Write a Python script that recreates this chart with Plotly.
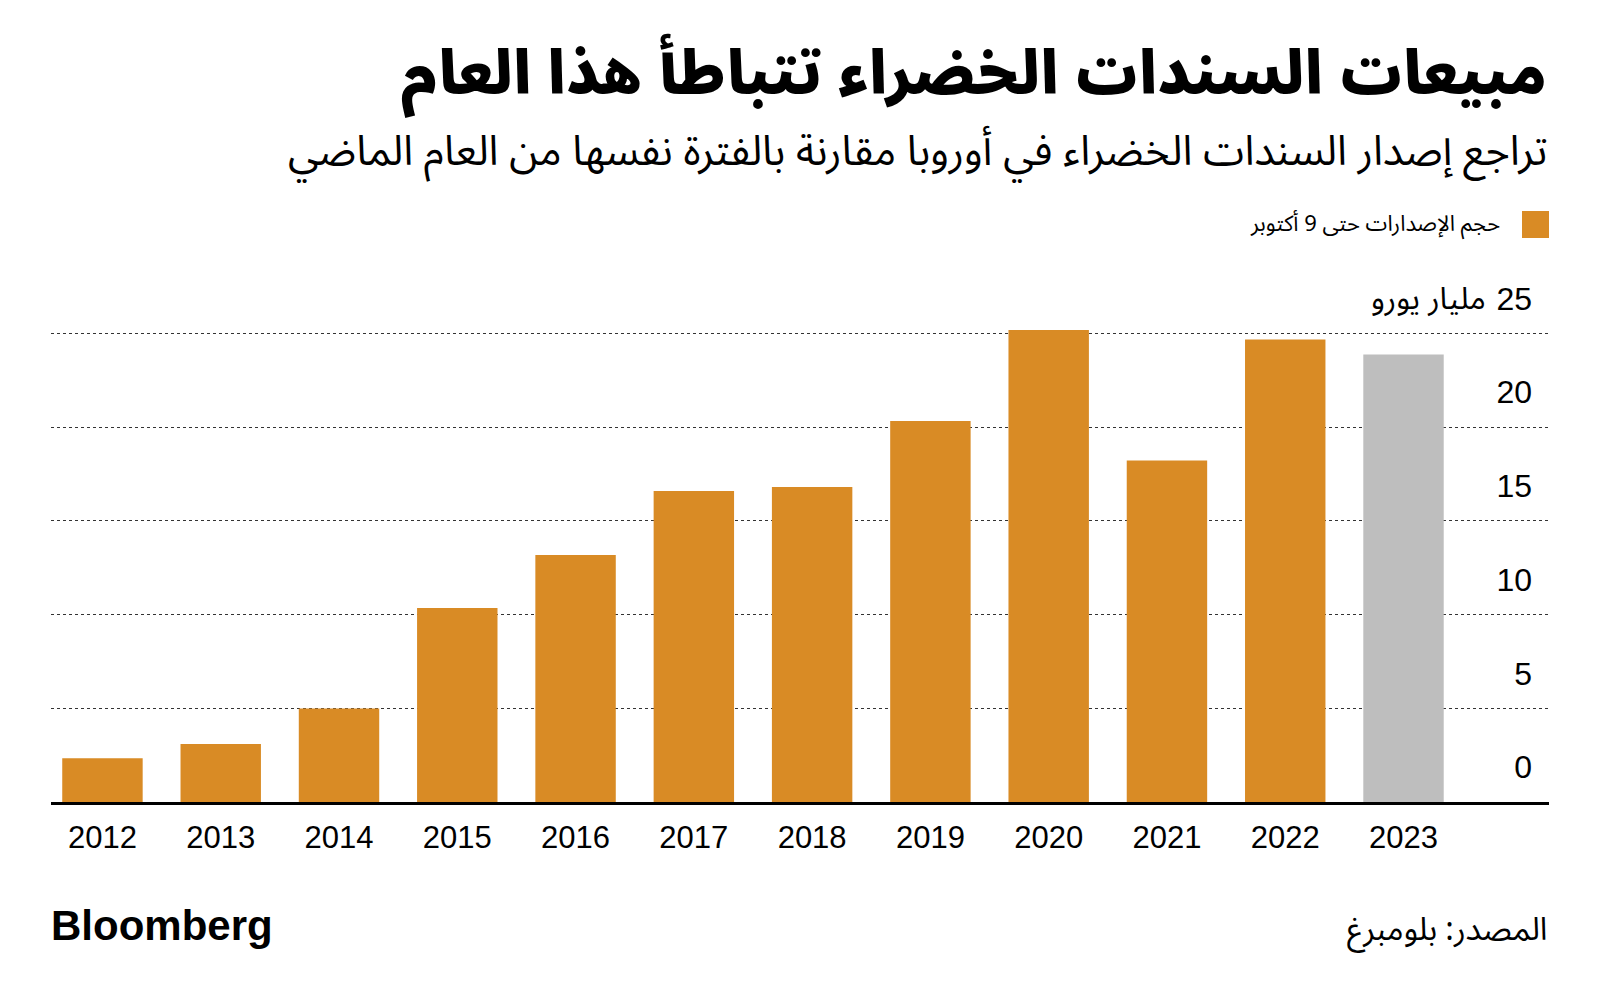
import plotly.graph_objects as go

years = ["2012", "2013", "2014", "2015", "2016", "2017", "2018", "2019", "2020", "2021", "2022", "2023"]
volumes = [2.33, 3.09, 4.99, 10.36, 13.18, 16.6, 16.81, 20.34, 25.19, 18.22, 24.69, 23.89]
y_tickvals = [0, 5, 10, 15, 20, 25]
y_ticktext = ["0", "5", "10", "15", "20", "25"]
y_unit = "مليار يورو"

title = "مبيعات السندات الخضراء تتباطأ هذا العام"
subtitle = "تراجع إصدار السندات الخضراء في أوروبا مقارنة بالفترة نفسها من العام الماضي"
legend_text = "حجم الإصدارات حتى 9 أكتوبر"
source_text = "المصدر: بلومبرغ"

ORANGE = "#D98B25"
GRAY = "#BEBEBE"
colors = [ORANGE] * (len(years) - 1) + [GRAY]

W, H = 1600, 1004
ML, MR, MT, MB = 51, 51, 268, 202
PW, PH = W - ML - MR, H - MT - MB

def px(x):
    return (x - ML) / PW

def py(y):
    return (H - MB - y) / PH

AR = "Noto Sans Arabic, Noto Naskh Arabic, DejaVu Sans, sans-serif"
LAT = "Liberation Sans, Arial, Helvetica, sans-serif"

fig = go.Figure()
fig.add_trace(go.Bar(
    x=years, y=volumes, marker=dict(color=colors, line=dict(width=0)),
    showlegend=False, hoverinfo="x+y",
))

fig.update_layout(
    width=W, height=H,
    margin=dict(l=ML, r=MR, t=MT, b=MB, autoexpand=False),
    paper_bgcolor="white", plot_bgcolor="white",
    bargap=0.32,
    font=dict(family=LAT, color="#000"),
    xaxis=dict(
        type="category", range=[-0.435, 12.23], automargin=False,
        showline=True, linecolor="#000", linewidth=3,
        ticks="", showgrid=False, zeroline=False,
        tickfont=dict(size=31, family=LAT, color="#000"),
        ticklabelstandoff=6,
    ),
    yaxis=dict(
        range=[0, 28.5], side="right", ticklabelposition="inside", automargin=False,
        tickvals=y_tickvals, ticktext=y_ticktext,
        showgrid=True, gridcolor="#333", griddash="dot", gridwidth=1.3,
        zeroline=False, showline=False, ticks="",
        tickfont=dict(size=32, family=LAT, color="#000"),
        ticklabelshift=-35, ticklabelstandoff=14,
    ),
)

annotations = [
    dict(text=title, x=px(1549), y=py(75), xanchor="right", yanchor="middle",
         xref="paper", yref="paper",
         font=dict(size=60, family=AR, color="#000", weight=900)),
    dict(text=subtitle, x=px(1549), y=py(152), xanchor="right", yanchor="middle",
         xref="paper", yref="paper",
         font=dict(size=41.6, family=AR, color="#000")),
    dict(text=legend_text, x=px(1502), y=py(224), xanchor="right", yanchor="middle",
         xref="paper", yref="paper",
         font=dict(size=22, family=AR, color="#000")),
    dict(text=y_unit, x=px(1488), y=y_tickvals[-1], yshift=35, xanchor="right", yanchor="middle",
         xref="paper", yref="y",
         font=dict(size=31, family=AR, color="#000")),
    dict(text="Bloomberg", x=px(49), y=py(925), xanchor="left", yanchor="middle",
         xref="paper", yref="paper",
         font=dict(size=42, family="Liberation Sans, Arial, sans-serif", color="#000", weight="bold")),
    dict(text=source_text, x=px(1549), y=py(930), xanchor="right", yanchor="middle",
         xref="paper", yref="paper",
         font=dict(size=32, family=AR, color="#000")),
]
for a in annotations:
    a.update(showarrow=False)
fig.update_layout(annotations=annotations)

fig.add_shape(type="rect", xref="paper", yref="paper",
              x0=px(1522), x1=px(1549), y0=py(211), y1=py(238),
              fillcolor=ORANGE, line=dict(width=0))

fig.write_html("out.html", config={"displayModeBar": False},
               post_script="document.body.style.margin='0';document.body.style.padding='0';")
